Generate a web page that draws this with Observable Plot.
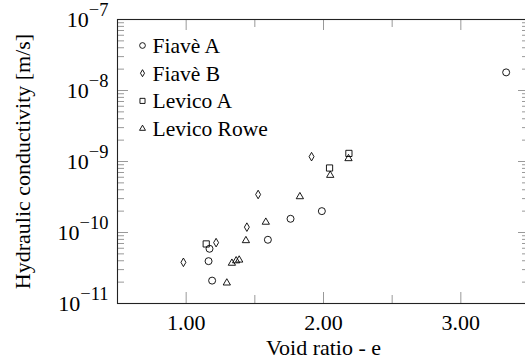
<!DOCTYPE html>
<html><head><meta charset="utf-8">
<script src="https://cdn.jsdelivr.net/npm/d3@7"></script>
<script src="https://cdn.jsdelivr.net/npm/@observablehq/plot@0.6"></script>
<style>html,body{margin:0;padding:0;background:#fff;overflow:hidden}</style>
</head><body><div id="chart"></div>
<script>
// ---- data ----
const seriesNames = ["Fiavè A", "Fiavè B", "Levico A", "Levico Rowe"];
const seriesSymbols = ["circle", "diamond", "square", "triangle"];
const fiaveA_e = [3.33, 1.17, 1.163, 1.189, 1.595, 1.76, 1.988];
const fiaveA_k = [1.8e-8, 5.9e-11, 3.95e-11, 2.1e-11, 7.9e-11, 1.56e-10, 2.0e-10];
const fiaveB_e = [0.98, 1.218, 1.442, 1.524, 1.913];
const fiaveB_k = [3.8e-11, 7.2e-11, 1.19e-10, 3.43e-10, 1.17e-9];
const levicoA_e = [1.146, 2.044, 2.185];
const levicoA_k = [6.9e-11, 8.1e-10, 1.3e-9];
const levicoRowe_e = [1.296, 1.333, 1.364, 1.386, 1.435, 1.58, 1.828, 2.049, 2.182];
const levicoRowe_k = [1.95e-11, 3.7e-11, 4.0e-11, 4.1e-11, 7.7e-11, 1.4e-10, 3.2e-10, 6.4e-10, 1.1e-9];
const xTicks = [1, 2, 3];
const xMinorTicks = [1.5, 2.5];
const yTickExponents = [-11, -10, -9, -8, -7];
const xLabel = "Void ratio - e";
const yLabel = "Hydraulic conductivity [m/s]";

// ---- build table ----
const groups = [[fiaveA_e, fiaveA_k], [fiaveB_e, fiaveB_k], [levicoA_e, levicoA_k], [levicoRowe_e, levicoRowe_k]];
const data = [];
groups.forEach(([es, ks], i) => es.forEach((e, j) => data.push({series: seriesNames[i], e, k: ks[j]})));

const yMajor = yTickExponents.map(p => Math.pow(10, p));
const yAll = d3.scaleLog().domain([yMajor[0], yMajor[yMajor.length - 1]]).ticks();
const yMinor = yAll.filter((d, i) => i % 9 !== 0);

const W = 525, H = 360, mL = 117, mR = -4, mT = 19, mB = 57;
const plotW = W - mL - mR, plotH = H - mT - mB;
const FONT = "Liberation Serif";
const FS = 21.5;
const tickColor = "#999";
const majLen = 11, minLen = 7;
const symbolR = {circle: 3.5, diamond: 2.6, square: 3.5, triangle: 2.7};

const legendMarks = [];
const dataMarks = [];
seriesNames.forEach((name, i) => {
  const sym = seriesSymbols[i];
  const dy = 26 + i * 27.7;
  legendMarks.push(Plot.dot([name], {frameAnchor: "top-left", dx: 25, dy, symbol: () => sym, r: symbolR[sym] * 0.82, stroke: "black", strokeWidth: 0.9, fill: "none"}));
  legendMarks.push(Plot.text([name], {frameAnchor: "top-left", dx: 35, dy: dy + 0.5, text: d => d, textAnchor: "start", lineAnchor: "middle", fontSize: FS, fill: "black"}));
  dataMarks.push(Plot.dot(data.filter(d => d.series === name), {x: "e", y: "k", symbol: "series", r: symbolR[sym], stroke: "black", strokeWidth: 0.9, fill: "none"}));
});

const chart = Plot.plot({
  width: W, height: H,
  marginLeft: mL, marginRight: mR, marginTop: mT, marginBottom: mB,
  style: {fontFamily: FONT, fontSize: FS + "px", color: "black", background: "white", overflow: "hidden"},
  x: {domain: [0.5, 3.5], label: null},
  y: {type: "log", domain: [yMajor[0], yMajor[yMajor.length - 1]], label: null},
  symbol: {domain: seriesNames, range: seriesSymbols},
  marks: [
    // ticks (inward)
    Plot.tickX(xTicks, {x: d => d, insetTop: plotH - majLen, stroke: tickColor}),
    Plot.tickX(xTicks, {x: d => d, insetBottom: plotH - majLen, stroke: tickColor}),
    Plot.tickX(xMinorTicks, {x: d => d, insetTop: plotH - minLen - 1, stroke: tickColor}),
    Plot.tickX(xMinorTicks, {x: d => d, insetBottom: plotH - minLen - 1, stroke: tickColor}),
    Plot.tickY(yMajor, {y: d => d, insetRight: plotW - majLen, stroke: tickColor}),
    Plot.tickY(yMajor, {y: d => d, insetLeft: plotW - majLen, stroke: tickColor}),
    Plot.tickY(yMinor, {y: d => d, insetRight: plotW - minLen, stroke: tickColor}),
    Plot.tickY(yMinor, {y: d => d, insetLeft: plotW - minLen, stroke: tickColor}),
    Plot.frame({stroke: "#222", strokeWidth: 1.1}),
    Plot.axisX({ticks: xTicks, tickSize: 0, tickPadding: 11, tickFormat: d3.format(".2f"), label: null, fontSize: 22, fill: "black"}),
    Plot.axisY({ticks: yMajor, tickSize: 0, tickPadding: 9, tickFormat: d => "10|" + "\u2212" + Math.round(-Math.log10(d)), label: null, fontSize: 22, fill: "black"}),
    Plot.text([xLabel], {frameAnchor: "bottom", dy: 44, lineAnchor: "middle", textAnchor: "middle", fontSize: 22, fill: "black", letterSpacing: "0.8px"}),
    Plot.text([yLabel], {frameAnchor: "left", dx: -95, rotate: -90, lineAnchor: "middle", textAnchor: "middle", fontSize: 22, fill: "black", letterSpacing: "0.9px"}),
    ...legendMarks,
    ...dataMarks
  ]
});

// superscript exponents on y tick labels
d3.select(chart).selectAll("text").each(function () {
  const t = this.textContent;
  if (t.includes("|")) {
    const [base, exp] = t.split("|");
    const sel = d3.select(this);
    sel.text(null);
    sel.append("tspan").text(base);
    sel.append("tspan").attr("dy", "-0.55em").attr("font-size", "0.84em").text(exp);
  }
});
document.getElementById("chart").appendChild(chart);
</script>
</body></html>
